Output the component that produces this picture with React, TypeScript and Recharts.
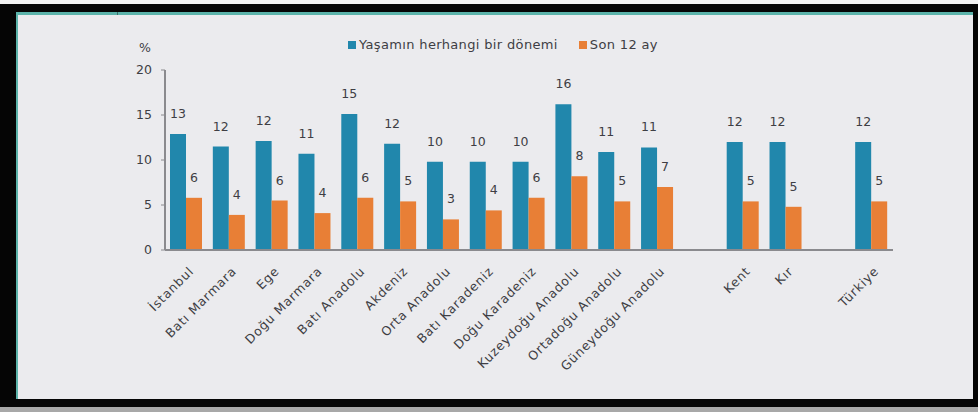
import React from 'react';
import { BarChart, Bar, XAxis, YAxis, LabelList } from 'recharts';

const categories = [
  'İstanbul', 'Batı Marmara', 'Ege', 'Doğu Marmara', 'Batı Anadolu', 'Akdeniz',
  'Orta Anadolu', 'Batı Karadeniz', 'Doğu Karadeniz', 'Kuzeydoğu Anadolu',
  'Ortadoğu Anadolu', 'Güneydoğu Anadolu', '', 'Kent', 'Kır', '', 'Türkiye',
];
const lifetime = [12.9, 11.5, 12.1, 10.7, 15.1, 11.8, 9.8, 9.8, 9.8, 16.2, 10.9, 11.4, null, 12.0, 12.0, null, 12.0];
const last12 = [5.8, 3.9, 5.5, 4.1, 5.8, 5.4, 3.4, 4.4, 5.8, 8.2, 5.4, 7.0, null, 5.4, 4.8, null, 5.4];
const yTicks = [0, 5, 10, 15, 20];
const seriesNames = ['Yaşamın herhangi bir dönemi', 'Son 12 ay'];

const BLUE = '#2187ac';
const ORANGE = '#e87f36';
const TEXT = '#3e3e44';
const FONT = '"DejaVu Sans", sans-serif';

const data = categories.map((name, i) => ({ name, lifetime: lifetime[i], last12: last12[i] }));

const fmt = (v: any) => (v == null ? '' : String(Math.round(Number(v))));

const RotTick = (props: any) => {
  const { x, y, payload } = props;
  const ax = x + 8;
  const ay = y + 22;
  return (
    <text
      x={ax}
      y={ay}
      transform={`rotate(-45 ${ax} ${ay})`}
      textAnchor="end"
      fontSize={12.5}
      letterSpacing={0.8}
      fill={TEXT}
      fontFamily={FONT}
    >
      {payload.value}
    </text>
  );
};

export default function App() {
  return (
    <div style={{ position: 'absolute', left: 0, top: 0, width: 978, height: 412, background: '#f2f2f2', overflow: 'hidden' }}>
      <div style={{ position: 'absolute', left: 0, top: 4, width: 978, height: 403, background: '#050505' }} />
      <div style={{ position: 'absolute', left: 0, top: 407, width: 978, height: 5, background: '#a8a8a8' }} />
      <div
        style={{
          position: 'absolute', left: 16, top: 12, width: 957 - 2, height: 387 - 3,
          background: '#ebebee', borderTop: '3px solid #5bb3aa', borderLeft: '2px solid #5bb3aa',
        }}
      />
      <div style={{ position: 'absolute', left: 117, top: 12, width: 1, height: 3, background: '#3a6f6a' }} />
      <div style={{ position: 'absolute', left: 0, top: 0 }}>
        <BarChart
          width={978}
          height={412}
          data={data}
          margin={{ top: 70, right: 85, bottom: 0, left: 125 }}
          barGap={0}
          barSize={16}
        >
          <XAxis
            dataKey="name"
            interval={0}
            tickLine={false}
            tickSize={0}
            tickMargin={0}
            height={162}
            axisLine={{ stroke: '#8a8a8e', strokeWidth: 2 }}
            tick={<RotTick />}
          />
          <YAxis
            width={40}
            domain={[0, 20]}
            ticks={yTicks}
            interval={0}
            tickSize={4}
            tickMargin={9}
            axisLine={{ stroke: '#8a8a8e', strokeWidth: 2 }}
            tickLine={{ stroke: '#8a8a8e' }}
            tick={{ fill: TEXT, fontSize: 12.5, fontFamily: FONT }}
            label={{ value: '%', position: 'top', offset: 18, fill: TEXT, fontSize: 12.5, fontFamily: FONT }}
          />
          <Bar dataKey="lifetime" name={seriesNames[0]} fill={BLUE} isAnimationActive={false}>
            <LabelList dataKey="lifetime" position="top" offset={16} formatter={fmt} fill={TEXT} fontSize={12.5} fontFamily={FONT} />
          </Bar>
          <Bar dataKey="last12" name={seriesNames[1]} fill={ORANGE} isAnimationActive={false}>
            <LabelList dataKey="last12" position="top" offset={16} formatter={fmt} fill={TEXT} fontSize={12.5} fontFamily={FONT} />
          </Bar>
        </BarChart>
      </div>
      <div
        style={{
          position: 'absolute', left: 348, top: 37, display: 'flex', alignItems: 'center',
          fontFamily: FONT, fontSize: 13, color: TEXT, whiteSpace: 'nowrap', lineHeight: '16px', letterSpacing: 0.35,
        }}
      >
        <span style={{ display: 'inline-block', width: 8, height: 8, background: BLUE, marginRight: 3 }} />
        <span>{seriesNames[0]}</span>
        <span style={{ display: 'inline-block', width: 8, height: 8, background: ORANGE, marginLeft: 21, marginRight: 3 }} />
        <span>{seriesNames[1]}</span>
      </div>
    </div>
  );
}
